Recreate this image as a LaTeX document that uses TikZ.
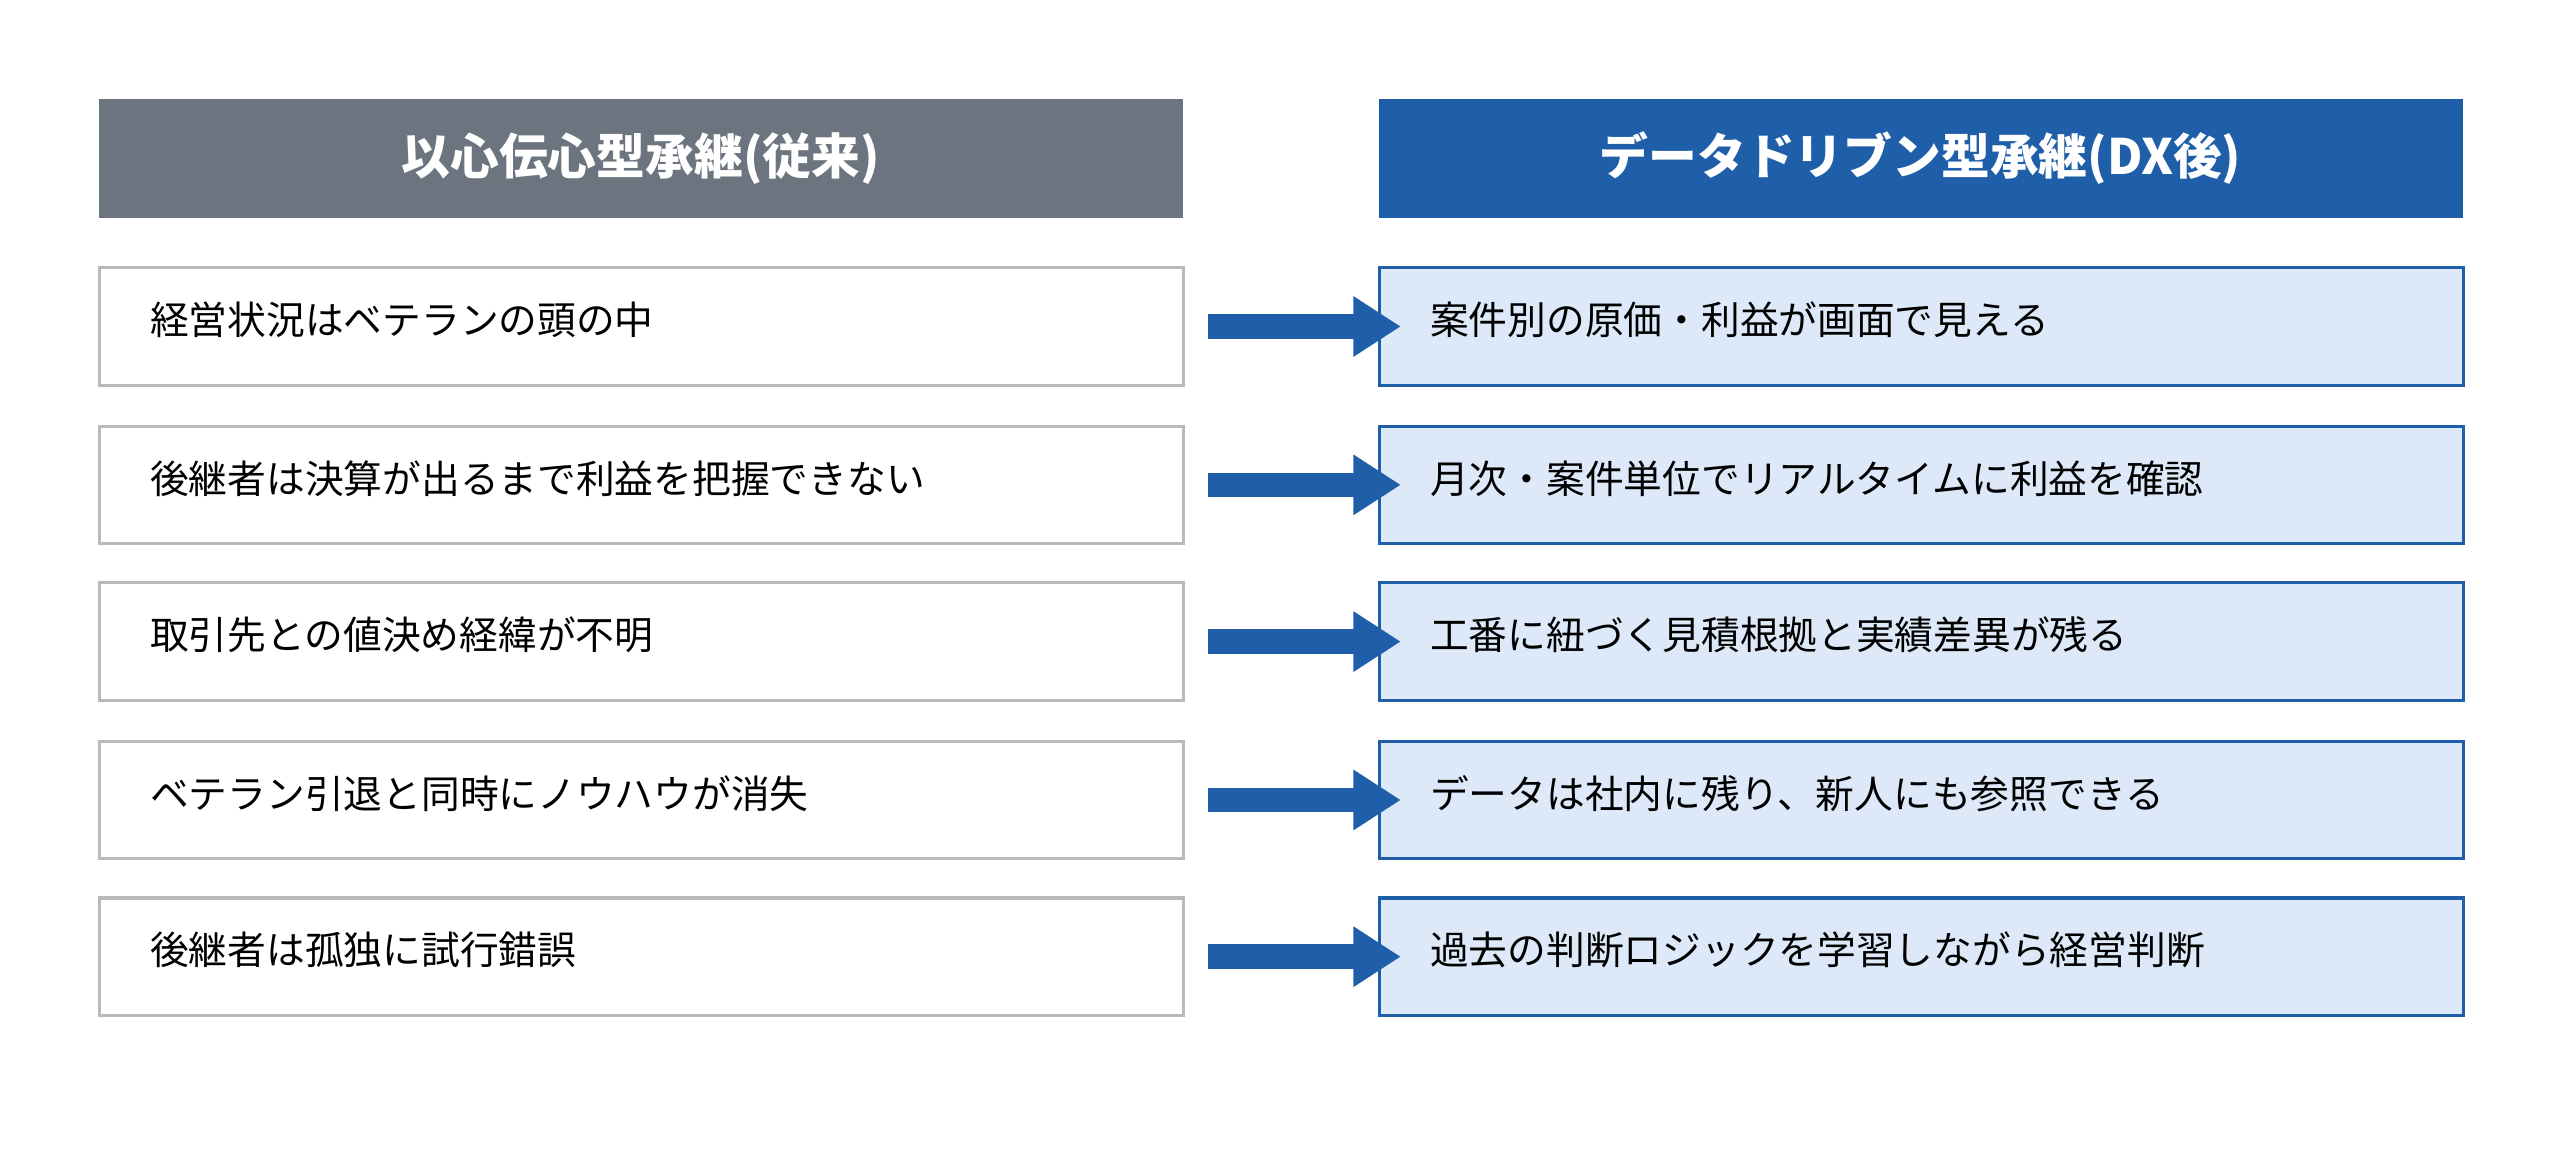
\documentclass[tikz,border=0pt]{standalone}
\usepackage{fontspec}
\setmainfont{Noto Sans CJK JP}
\usetikzlibrary{arrows.meta,positioning}
\definecolor{headgray}{RGB}{108,116,127}
\definecolor{dxblue}{RGB}{31,94,168}
\definecolor{dxfill}{RGB}{221,233,248}
\definecolor{boxgray}{RGB}{185,185,185}

\begin{document}
\begin{tikzpicture}[
    head/.style={rectangle, fill=#1, anchor=north west, minimum width=13.28cm,
                 minimum height=1.46cm, text=white, font=\fontsize{17}{20}\selectfont\bfseries},
    item/.style={rectangle, draw=#1, line width=1.1pt, anchor=north west,
                 minimum width=13.28cm, minimum height=1.44cm, inner xsep=0.62cm,
                 text width=12.04cm, align=left, font=\fontsize{13.5}{16}\selectfont},
    flow/.style={-{Triangle[length=0.58cm,width=0.7cm]}, line width=0.3cm, draw=dxblue}
]
\useasboundingbox (0,0) rectangle (31.36,-14.112);

% Column headers
\node[head=headgray] (oldhead) at (1.2,-1.2) {以心伝心型承継(従来)};
\node[head=dxblue] (dxhead) at (16.88,-1.2) {データドリブン型承継(DX後)};

% Rows
\foreach \i/\y/\old/\new in {
    1/-3.26/経営状況はベテランの頭の中/案件別の原価・利益が画面で見える,
    2/-5.2/後継者は決算が出るまで利益を把握できない/月次・案件単位でリアルタイムに利益を確認,
    3/-7.12/取引先との値決め経緯が不明/工番に紐づく見積根拠と実績差異が残る,
    4/-9.06/ベテラン引退と同時にノウハウが消失/データは社内に残り、新人にも参照できる,
    5/-10.98/後継者は孤独に試行錯誤/過去の判断ロジックを学習しながら経営判断}{
  \node[item=boxgray, fill=white] (old\i) at (1.2,\y) {\raisebox{0.2cm}{\old}};
  \node[item=dxblue, fill=dxfill] (new\i) at (16.88,\y) {\raisebox{0.2cm}{\new}};
  \coordinate (from\i) at ([xshift=0.28cm]old\i.east);
  \draw[flow] (from\i) -- ([xshift=0.28cm]new\i.west);
}
\end{tikzpicture}
\end{document}
